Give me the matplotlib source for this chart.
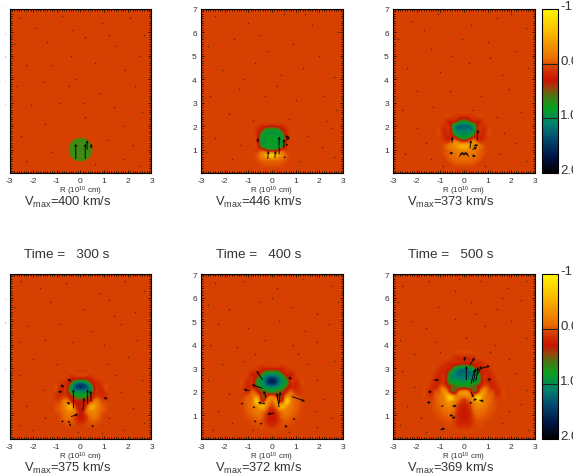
import numpy as np
import matplotlib
matplotlib.use("Agg")
import matplotlib.pyplot as plt
from matplotlib.colors import LinearSegmentedColormap, Normalize
from matplotlib.patches import Circle
from matplotlib.ticker import MultipleLocator
from matplotlib.transforms import Bbox

plt.rcParams['font.family'] = ['Liberation Sans', 'DejaVu Sans']
plt.rcParams['mathtext.default'] = 'regular'
plt.rcParams['axes.unicode_minus'] = False

W, H = 573, 477
BACKGROUND = 0.06
TEXT_COLOR = '#333333'

vmax_labels = [400, 446, 373, 375, 372, 369]
time_labels = [300, 400, 500]

# The starting cloud is a uniform disc: centre z and radius
cloud_z = 1.0
cloud_radius = 0.5

# Half fields: rows go up from z=0.2 in steps of 0.2, columns go out from R=0 in steps of 0.2.
# Anything not listed stays at the background level, and the blob is mirrored about R=0.
field_0 = []
field_1 = [
    [],
    [-.02, -.02, .0],
    [-.25, -.2, -.1, .0],
    [-.6, -.5, -.25, -.02],
    [.6, .5, .2, .1],
    [.85, .85, .85, .2],
    [.85, .85, .85, .25],
    [.85, .85, .85, .25],
    [.85, .85, .5, .2],
    [.3, .25, .2, .1],
]
field_2 = [
    [],
    [-.02, -.02, .0],
    [-.08, -.08, -.06, -.02],
    [-.15, -.15, -.12, -.05, .0],
    [-.35, -.3, -.2, -.1, .0],
    [-.45, -.4, -.3, -.15, .0],
    [.4, .2, -.1, .15, .15],
    [.95, .9, .5, .2, .2],
    [1.1, 1.1, .9, .2, .2],
    [1.25, 1.2, .95, .25, .15],
    [.75, .6, .3, .25, .1],
    [.18, .15, .1],
]
field_3 = [
    [],
    [],
    [.1, .06, .02, .02],
    [.25, .12, -.03, -.05, .0],
    [.3, .1, -.12, -.15, -.03],
    [.3, .0, -.3, -.25, -.08, .0],
    [.35, .2, -.4, -.35, -.1, .0],
    [.35, .3, .15, -.2, -.05, .05],
    [.75, .65, .35, .1, .1, .15],
    [1.05, 1.0, .85, .2, .2, .12],
    [1.5, 1.35, .95, .22, .2, .05],
    [1.1, 1.0, .45, .2, .12],
    [.2, .2, .18, .08],
]
field_4 = [
    [],
    [.05, .05, .04],
    [.2, .12, .03, .02, .04],
    [.28, .2, .02, -.03, .0, .04],
    [.3, .18, -.05, -.1, -.05, .0, .05],
    [.25, .05, -.2, -.2, -.1, -.03, .03],
    [.05, -.2, -.5, -.4, -.15, -.05, .02],
    [-.1, -.3, .2, -.6, -.25, -.06, .02],
    [-.15, .1, .45, -.25, -.15, -.03, .04],
    [.7, .6, .45, .2, -.05, .12, .1],
    [1.1, 1.0, .9, .5, .2, .2, .1],
    [1.6, 1.4, 1.0, .8, .2, .2],
    [1.45, 1.25, 1.0, .5, .22, .12],
    [.85, .85, .5, .22, .2, .08],
    [.22, .22, .2, .12],
]
field_5 = [
    [],
    [.06, .06, .05],
    [.18, .18, .08, .03, .04],
    [.25, .22, .08, .0, .01, .04],
    [.28, .25, .03, -.06, -.03, .0, .04],
    [.28, .22, -.03, -.12, -.1, -.03, .01, .05],
    [.25, .15, -.12, -.25, -.18, -.07, .0, .05],
    [.15, .0, -.25, -.45, -.25, -.1, -.02, .05],
    [-.15, -.2, -.3, -.65, -.35, -.1, -.02, .12],
    [-.3, -.15, .45, .15, -.35, -.08, .02, .2],
    [.55, .6, .55, .35, .0, .0, .2, .15],
    [.9, .85, .85, .7, .2, .18, .2, .1],
    [1.15, 1.1, 1.05, .85, .22, .2, .18],
    [1.2, 1.2, 1.1, .7, .22, .2, .1],
    [1.1, 1.0, .7, .28, .2, .15],
    [.3, .28, .22, .2, .15, .08],
    [.2, .2, .15, .08],
]
fields = [field_0, field_1, field_2, field_3, field_4, field_5]

# Velocity arrows: tail R, tail z, dR, dz
arrows_0 = [(-.2, .6, 0, .65), (.2, .6, 0, .65), (.28, 1.0, 0, .4), (.45, 1.05, 0, .2)]
arrows_1 = [(.3, .8, 0, .75), (-.6, 1.3, 0, .2), (-.18, .6, .03, .35), (.12, .65, .03, .3),
            (.5, 1.1, 0, .35), (.6, 1.4, .15, .15), (.6, 1.2, .1, 0), (.7, 1.55, -.15, 0),
            (.5, .68, .08, -.03)]
arrows_2 = [(.55, 1.4, .05, .45), (-.5, 1.3, 0, .25), (.25, 1.05, .05, .35), (.35, 1.0, .2, .1),
            (.4, 1.15, .2, .05), (-.2, .7, .15, .2), (.2, .7, -.15, .2), (-.6, .85, .15, 0),
            (.35, .75, .15, -.05), (0, .75, 0, .15)]
arrows_3 = [(-.3, 1.3, 0, .8), (.3, 1.5, 0, .6), (.1, 1.2, .05, .55), (.45, 1.6, -.02, .45),
            (-.4, .95, .3, .1), (-.4, 2.45, -.15, .1), (-.7, 2.2, -.15, .1), (-.8, 2.0, -.15, 0),
            (-.45, 1.5, -.15, .05), (1.0, 1.75, .15, -.05), (-.8, .75, .1, 0),
            (-.4, .6, -.1, 0), (-.45, .7, -.1, .05), (.55, .55, -.1, 0)]
arrows_4 = [(-.4, 2.5, -.25, .4), (-.4, 2.15, -.45, .15), (-.25, 1.75, -.1, .3), (-.3, 1.5, -.3, .05),
            (.3, 1.35, -.1, .6), (.3, 1.5, .05, .5), (.1, 1.1, -.3, -.05), (-.95, 2.05, -.25, .05),
            (.85, 1.8, .55, -.2), (.7, 2.6, .15, -.05), (-1.3, 1.5, .1, 0), (-.8, 1.35, .1, 0),
            (-.75, .75, .1, 0), (-.5, .65, .1, 0), (.9, .85, .1, 0), (.55, .55, .12, -.03)]
arrows_5 = [(.1, 2.5, 0, .6), (.3, 2.35, .15, .6), (.4, 2.4, .1, .6), (.5, 2.45, .1, .6),
            (.55, 2.7, .2, .4), (.75, 3.0, .35, .1), (.25, 3.15, .2, .3), (.0, 3.3, .05, .2),
            (1.0, 2.5, .15, .05), (-1.3, 2.5, .25, 0), (-1.5, 2.0, .15, 0), (-1.55, 1.55, .15, 0),
            (-.95, 1.4, .1, 0), (-.5, 1.4, .2, 0), (.4, 1.65, .15, .05), (.65, 1.65, .2, -.05),
            (.3, 1.5, -.05, .1), (.3, 2.0, .1, -.25), (-.6, 1.0, .15, 0), (-.5, .9, .15, .02),
            (-1.0, .4, .2, .05)]
arrows = [arrows_0, arrows_1, arrows_2, arrows_3, arrows_4, arrows_5]

# Scattered tracer specks in the ambient gas, one (R, z) list per time
specks_0 = [(-2.6, 6.6), (-1.9, 6.2), (-.8, 6.7), (.9, 6.4), (2.1, 6.6), (2.7, 5.9), (-2.8, 5.5), (-1.4, 5.6),
            (.2, 5.8), (1.5, 5.4), (2.5, 5.0), (-2.3, 4.6), (-1.2, 4.6), (-.4, 5.0), (.6, 4.7), (1.9, 4.4),
            (-2.7, 3.7), (-1.6, 3.9), (-.5, 3.7), (-.2, 4.0), (.8, 3.4), (2.3, 3.7), (-2.1, 2.9), (-.9, 3.0),
            (1.4, 2.8), (2.6, 2.6), (-1.5, 2.1), (.2, 2.4), (1.8, 2.0), (-2.5, 1.6), (1.1, 1.4), (2.2, 1.2),
            (-1.2, .9), (1.8, .6), (-2.3, .5), (.6, .4), (2.5, .3), (-.3, 6.1), (1.2, 5.9), (.1, 3.0)]
specks_1 = [(-2.4, 6.7), (-1.0, 6.4), (.5, 6.8), (1.7, 6.3), (2.8, 6.0), (-2.7, 5.4), (-1.6, 5.7), (-.2, 5.2),
            (.9, 5.5), (2.0, 5.0), (-2.1, 4.4), (-.7, 4.7), (.4, 4.2), (1.3, 4.5), (2.6, 4.1), (-2.6, 3.3),
            (-1.4, 3.6), (-.3, 3.3), (1.0, 3.1), (2.2, 3.3), (-1.8, 2.5), (-.8, 2.2), (.7, 2.3), (2.3, 2.2),
            (2.5, 1.9), (-2.4, 1.5), (-1.3, 1.2), (1.5, 1.6), (2.1, 1.1), (-1.7, .6), (1.2, .5), (2.6, .7),
            (-2.8, .9), (-.5, 5.9), (1.4, 6.8), (-1.2, 4.0), (.2, 3.7), (2.7, 2.7)]
specks_2 = [(-2.2, 6.5), (-1.1, 6.8), (.3, 6.3), (1.4, 6.6), (2.6, 6.2), (-2.8, 5.7), (-1.4, 5.3), (-.5, 5.0),
            (1.0, 5.6), (2.2, 5.2), (-2.4, 4.5), (-1.0, 4.3), (.2, 4.7), (1.6, 4.2), (2.7, 4.5), (-2.0, 3.5),
            (-.6, 3.5), (.7, 3.3), (1.9, 3.6), (-2.6, 2.7), (-1.3, 2.8), (.4, 2.7), (1.4, 2.4), (2.4, 2.6),
            (-2.0, 1.9), (1.7, 1.7), (-1.6, 1.3), (2.2, 1.3), (-2.5, .8), (-1.4, .6), (1.5, .8), (2.6, .5),
            (-.9, .3), (.9, .3), (-.1, 5.7), (1.1, 4.9), (-1.7, 6.1), (2.0, 6.8)]
specks_3 = [(-2.5, 6.7), (-1.7, 6.4), (-.6, 6.6), (.8, 6.2), (1.9, 6.7), (2.7, 6.3), (-2.8, 5.6), (-1.3, 5.8),
            (.1, 5.5), (1.2, 5.9), (2.3, 5.4), (-2.2, 4.8), (-.9, 4.9), (.5, 4.6), (1.7, 4.9), (-2.6, 4.1),
            (-1.5, 4.2), (-.3, 4.1), (1.0, 4.0), (2.4, 4.2), (-2.0, 3.4), (-1.0, 3.2), (1.1, 3.2), (2.0, 3.5),
            (-2.6, 2.7), (1.5, 2.7), (2.6, 2.5), (-1.6, 2.1), (1.7, 2.0), (-2.3, 1.4), (2.2, 1.3), (-1.5, .9),
            (1.2, .9), (-2.6, .6), (-2.0, .4), (1.8, .4), (2.7, .7), (-.1, .3), (.9, .25), (1.4, 5.2)]
specks_4 = [(-2.4, 6.6), (-1.2, 6.7), (.2, 6.4), (1.3, 6.8), (2.5, 6.5), (-2.7, 5.7), (-1.8, 5.5), (-.5, 5.8),
            (.8, 5.6), (1.9, 5.3), (2.8, 5.8), (-2.3, 4.9), (-1.0, 4.7), (.3, 5.0), (1.4, 4.6), (2.4, 4.9),
            (-2.6, 4.0), (-1.5, 3.9), (-.3, 4.2), (.9, 4.0), (1.9, 4.1), (-2.1, 3.2), (-1.2, 3.3), (1.5, 3.2),
            (2.6, 3.3), (-2.7, 2.5), (1.9, 2.5), (-1.8, 1.9), (2.2, 1.7), (-2.3, 1.2), (1.8, 1.2), (-1.7, .7),
            (2.5, .9), (-2.5, .4), (1.9, .5), (-.8, .4), (.7, .3), (.0, 6.0), (1.1, 3.6), (-.7, 3.6)]
specks_5 = [(-2.6, 6.5), (-1.5, 6.7), (-.4, 6.3), (.7, 6.7), (1.8, 6.4), (2.6, 6.7), (-2.8, 5.8), (-1.1, 5.6),
            (.3, 5.8), (1.4, 5.5), (2.4, 5.9), (-2.2, 5.0), (-1.6, 4.7), (-.4, 5.1), (.9, 4.8), (2.0, 5.0),
            (-2.7, 4.2), (-1.2, 4.1), (.1, 4.3), (1.3, 4.0), (2.6, 4.3), (-2.1, 3.6), (-1.0, 3.7), (1.1, 3.7),
            (1.9, 3.4), (-2.6, 2.9), (2.2, 2.8), (-2.1, 2.2), (2.6, 2.1), (-2.4, 1.4), (1.9, 1.2), (2.4, 1.5),
            (-1.8, .9), (-2.7, .6), (1.6, .7), (2.7, .4), (-1.6, .3), (-.2, 6.8), (1.6, 6.0), (.5, 5.3)]
specks = [specks_0, specks_1, specks_2, specks_3, specks_4, specks_5]

# Colour table running from yellow at -1 through green at 1 to black at 2
cmap_nodes = [(-1.0, '#fff500'), (-.6, '#fabe00'), (-.3, '#f08c00'), (-.1, '#ea7000'), (.0, '#e05200'),
              (.06, '#d64000'), (.15, '#d22e00'), (.3, '#c81400'), (.45, '#96460a'), (.6, '#467814'),
              (.8, '#0aa01e'), (1.0, '#008c50'), (1.1, '#00826e'), (1.4, '#00466e'), (1.7, '#001446'),
              (2.0, '#000000')]
cmap = LinearSegmentedColormap.from_list('flow', [((v + 1) / 3, c) for v, c in cmap_nodes])
norm = Normalize(-1, 2)


def full_field(half_rows):
    grid = np.full((36, 31), BACKGROUND)
    for i, row in enumerate(half_rows):
        for j, val in enumerate(row):
            grid[i + 1, 15 + j] = val
            grid[i + 1, 15 - j] = val
    return grid


def px_axes(x0, y0, x1, y1):
    # pixel box measured from the top left corner
    return fig.add_axes([x0 / W, 1 - y1 / H, (x1 - x0) / W, (y1 - y0) / H])


fig = plt.figure(figsize=(W / 100, H / 100), dpi=100)
lefts = [9.5, 201, 393]
rows = [(10, 174), (275, 440)]

for n, (half, arr, sp) in enumerate(zip(fields, arrows, specks)):
    col = n % 3
    top, bottom = rows[n // 3]
    left = lefts[col]
    ax = px_axes(left, top, left + 142, bottom)

    ax.imshow(full_field(half), origin='lower', extent=[-3.1, 3.1, -.1, 7.1], aspect='auto',
              cmap=cmap, norm=norm, interpolation='lanczos')
    if n == 0:
        ax.add_patch(Circle((0, cloud_z), cloud_radius, color='#3f8a12', lw=0, zorder=1.5))

    sx, sy = zip(*sp)
    ax.scatter(sx, sy, s=1.2, color='#6e2400', linewidths=0, zorder=2)

    ar = np.array(arr)
    ax.quiver(ar[:, 0], ar[:, 1], ar[:, 2], ar[:, 3], angles='xy', scale_units='xy', scale=1,
              units='dots', width=.9, headwidth=3.5, headlength=3.5, headaxislength=3,
              minlength=0, color='black', zorder=3)

    ax.set_xlim(-3, 3)
    ax.set_ylim(0, 7)
    ax.set_xticks(range(-3, 4))
    ax.set_yticks(range(1, 8))
    ax.xaxis.set_minor_locator(MultipleLocator(.1))
    ax.yaxis.set_minor_locator(MultipleLocator(.1))
    ax.tick_params(which='both', direction='in', top=True, right=True, color='black', width=.5)
    ax.tick_params(which='major', length=2.5, labelsize=6, labelcolor=TEXT_COLOR, pad=3)
    ax.tick_params(which='minor', length=1.3)
    for s in ax.spines.values():
        s.set_linewidth(.8)
    ax.set_xlabel(r'R (10$^{10}$ cm)', fontsize=5.8, color=TEXT_COLOR, labelpad=0)

    # the left column's y labels run off the sheet
    if col == 0:
        for lab in ax.get_yticklabels():
            lab.set_clip_box(Bbox([[5, 0], [W, H]]))
            lab.set_clip_on(True)

    fig.text((left + 14) / W, 1 - (bottom + 28.5) / H, 'V$_{max}$=%d km/s' % vmax_labels[n],
             fontsize=9.3, color=TEXT_COLOR, va='center', ha='left')

    if n // 3 == 1:
        fig.text((left + 14.5) / W, 1 - 254.5 / H, 'Time =   %d s' % time_labels[col],
                 fontsize=9.7, color=TEXT_COLOR, va='center', ha='left')

# Shared colour scale beside each row
for top, bottom in rows:
    cax = px_axes(541.5, top, 558, bottom)
    cb = fig.colorbar(plt.cm.ScalarMappable(norm=norm, cmap=cmap), cax=cax)
    cax.set_ylim(2, -1)
    cb.set_ticks([-1, 0, 1, 2])
    cb.set_ticklabels(['-1.0', '0.0', '1.0', '2.0'])
    cax.tick_params(length=0, labelsize=9.5, labelcolor=TEXT_COLOR, pad=1.5)
    for lab in cax.get_yticklabels():
        lab.set_verticalalignment('baseline')
    cax.axhline(0, color='#222222', lw=.8)
    cax.axhline(1, color='#222222', lw=.8)
    cb.outline.set_linewidth(.8)

fig.savefig('out.png', dpi=100)
